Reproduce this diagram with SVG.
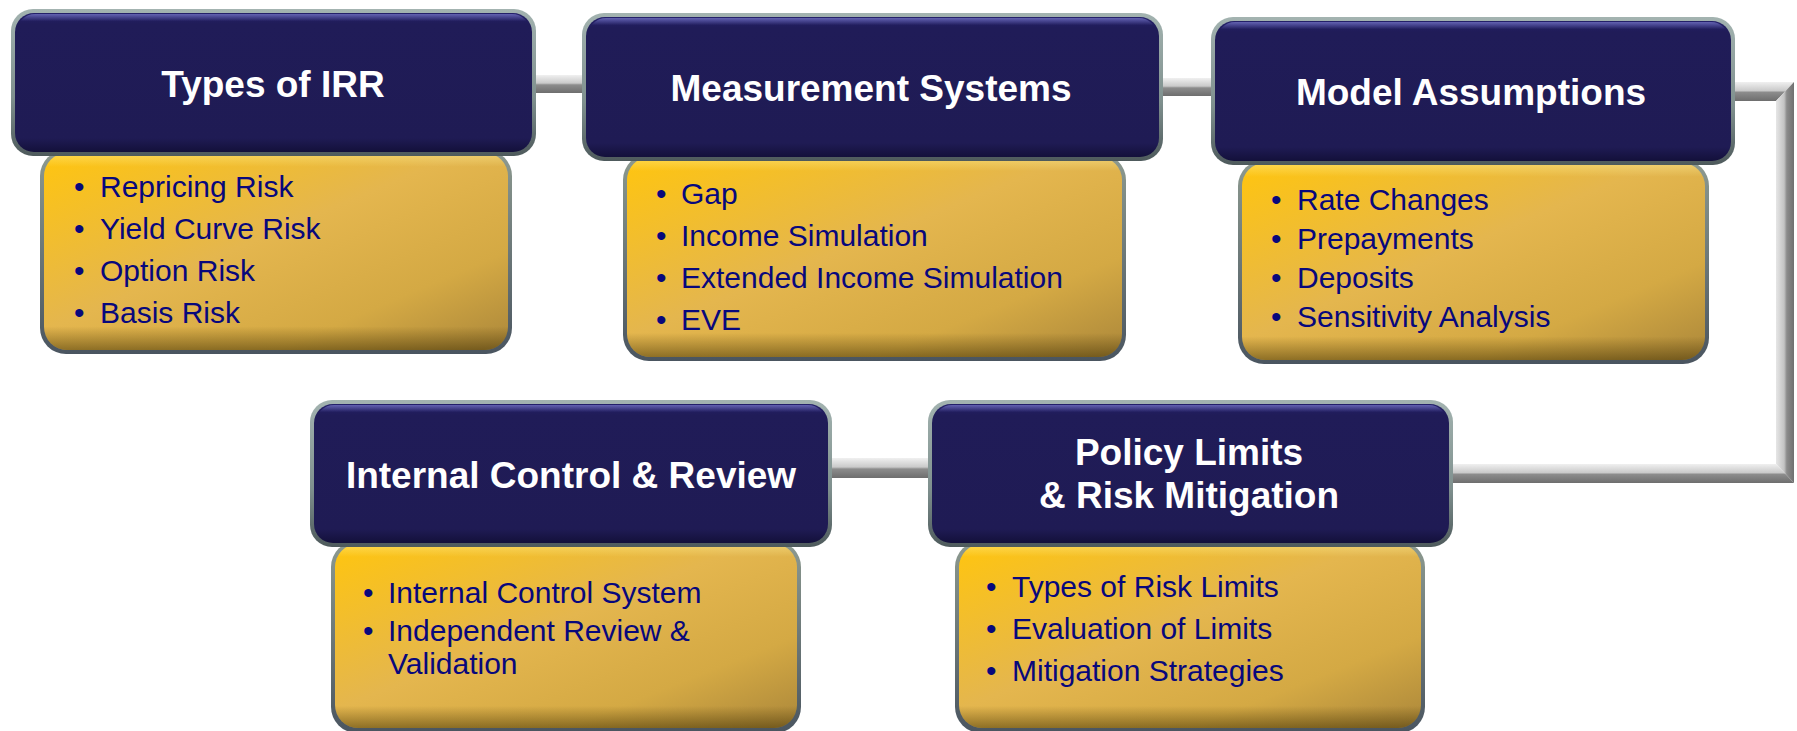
<svg xmlns="http://www.w3.org/2000/svg" width="1797" height="731" viewBox="0 0 1797 731">
  <defs>
    <linearGradient id="navyFill" x1="0" y1="0" x2="0" y2="1">
      <stop offset="0" stop-color="#24206a"/>
      <stop offset="0.08" stop-color="#201c58"/>
      <stop offset="0.9" stop-color="#1f1b54"/>
      <stop offset="1" stop-color="#13103a"/>
    </linearGradient>
    <linearGradient id="navyRim" x1="0" y1="0" x2="0" y2="1">
      <stop offset="0" stop-color="#a3b3b0"/>
      <stop offset="0.6" stop-color="#7f908e"/>
      <stop offset="1" stop-color="#4e5a5c"/>
    </linearGradient>
    <linearGradient id="navyHi" x1="0" y1="0" x2="0" y2="1">
      <stop offset="0" stop-color="#6a69b8" stop-opacity="0.9"/>
      <stop offset="0.12" stop-color="#6a69b8" stop-opacity="0"/>
      <stop offset="1" stop-color="#6a69b8" stop-opacity="0"/>
    </linearGradient>
    <linearGradient id="goldFill" x1="0" y1="0" x2="1" y2="1">
      <stop offset="0" stop-color="#ffc50f"/>
      <stop offset="0.45" stop-color="#e4b64e"/>
      <stop offset="0.75" stop-color="#d4a944"/>
      <stop offset="1" stop-color="#ab873a"/>
    </linearGradient>
    <linearGradient id="goldBevel" x1="0" y1="0" x2="0" y2="1">
      <stop offset="0" stop-color="#fff3a0" stop-opacity="0.45"/>
      <stop offset="0.07" stop-color="#fff3a0" stop-opacity="0"/>
      <stop offset="0.88" stop-color="#3c2c00" stop-opacity="0"/>
      <stop offset="1" stop-color="#3c2c00" stop-opacity="0.5"/>
    </linearGradient>
    <linearGradient id="goldRim" x1="0" y1="0" x2="0" y2="1">
      <stop offset="0" stop-color="#8d9a90"/>
      <stop offset="1" stop-color="#4a5560"/>
    </linearGradient>
    <linearGradient id="barH" x1="0" y1="0" x2="0" y2="1">
      <stop offset="0" stop-color="#f0f0f0"/>
      <stop offset="0.45" stop-color="#cacaca"/>
      <stop offset="0.55" stop-color="#8c8c8c"/>
      <stop offset="1" stop-color="#6e6e6e"/>
    </linearGradient>
    <linearGradient id="barV" x1="0" y1="0" x2="1" y2="0">
      <stop offset="0" stop-color="#e6e6e6"/>
      <stop offset="0.45" stop-color="#c4c4c4"/>
      <stop offset="0.6" stop-color="#8c8c8c"/>
      <stop offset="1" stop-color="#707070"/>
    </linearGradient>
  </defs>
  <style>
    .rimN { fill: url(#navyRim); }
    .navy { fill: url(#navyFill); }
    .hi { fill: url(#navyHi); }
    .rimY { fill: url(#goldRim); }
    .gold { fill: url(#goldFill); }
    .bevel { fill: url(#goldBevel); }
    .title { font-family: "Liberation Sans", Arial, sans-serif; font-weight: bold; font-size: 37px; fill: #ffffff; text-anchor: middle; }
    .item { font-family: "Liberation Sans", Arial, sans-serif; font-size: 30px; fill: #08087c; }
    .barH { fill: url(#barH); }
    .barV { fill: url(#barV); }
  </style>
  <rect width="1797" height="731" fill="#ffffff"/>

  <g id="connectors">
    <rect class="barH" x="532" y="75" width="54" height="18"/>
    <rect class="barH" x="1158" y="78" width="56" height="18"/>
    <polygon class="barH" points="1731,82 1794,82 1776,101 1731,101"/>
    <polygon class="barV" points="1776,101 1794,82 1794,483 1776,464"/>
    <polygon class="barH" points="1450,464 1776,464 1794,483 1450,483"/>
    <rect class="barH" x="828" y="458" width="104" height="20"/>
  </g>

  <g id="node-types-of-irr">
    <rect class="rimY" x="40" y="150" width="472" height="204" rx="26"/>
    <rect class="gold" x="44" y="153" width="464" height="197" rx="23"/>
    <rect class="bevel" x="44" y="153" width="464" height="197" rx="23"/>
    <rect class="rimN" x="11" y="9" width="525" height="147" rx="22"/>
    <rect class="navy" x="15" y="13" width="517" height="139" rx="19"/>
    <rect class="hi" x="17" y="14" width="513" height="60" rx="18"/>
    <text class="title" x="273" y="97">Types of IRR</text>
    <text class="item" y="197"><tspan x="74">•</tspan><tspan x="100">Repricing Risk</tspan></text>
    <text class="item" y="239"><tspan x="74">•</tspan><tspan x="100">Yield Curve Risk</tspan></text>
    <text class="item" y="281"><tspan x="74">•</tspan><tspan x="100">Option Risk</tspan></text>
    <text class="item" y="323"><tspan x="74">•</tspan><tspan x="100">Basis Risk</tspan></text>
  </g>

  <g id="node-measurement-systems">
    <rect class="rimY" x="623" y="154" width="503" height="207" rx="26"/>
    <rect class="gold" x="627" y="157" width="495" height="200" rx="23"/>
    <rect class="bevel" x="627" y="157" width="495" height="200" rx="23"/>
    <rect class="rimN" x="582" y="13" width="581" height="148" rx="22"/>
    <rect class="navy" x="586" y="17" width="573" height="140" rx="19"/>
    <rect class="hi" x="588" y="18" width="569" height="60" rx="18"/>
    <text class="title" x="871" y="101">Measurement Systems</text>
    <text class="item" y="204"><tspan x="656">•</tspan><tspan x="681">Gap</tspan></text>
    <text class="item" y="246"><tspan x="656">•</tspan><tspan x="681">Income Simulation</tspan></text>
    <text class="item" y="288"><tspan x="656">•</tspan><tspan x="681">Extended Income Simulation</tspan></text>
    <text class="item" y="330"><tspan x="656">•</tspan><tspan x="681">EVE</tspan></text>
  </g>

  <g id="node-model-assumptions">
    <rect class="rimY" x="1238" y="160" width="471" height="204" rx="26"/>
    <rect class="gold" x="1242" y="163" width="463" height="197" rx="23"/>
    <rect class="bevel" x="1242" y="163" width="463" height="197" rx="23"/>
    <rect class="rimN" x="1211" y="17" width="524" height="148" rx="22"/>
    <rect class="navy" x="1215" y="21" width="516" height="140" rx="19"/>
    <rect class="hi" x="1217" y="22" width="512" height="60" rx="18"/>
    <text class="title" x="1471" y="105">Model Assumptions</text>
    <text class="item" y="210"><tspan x="1271">•</tspan><tspan x="1297">Rate Changes</tspan></text>
    <text class="item" y="249"><tspan x="1271">•</tspan><tspan x="1297">Prepayments</tspan></text>
    <text class="item" y="288"><tspan x="1271">•</tspan><tspan x="1297">Deposits</tspan></text>
    <text class="item" y="327"><tspan x="1271">•</tspan><tspan x="1297">Sensitivity Analysis</tspan></text>
  </g>

  <g id="node-internal-control">
    <rect class="rimY" x="331" y="541" width="470" height="192" rx="26"/>
    <rect class="gold" x="335" y="544" width="462" height="184" rx="23"/>
    <rect class="bevel" x="335" y="544" width="462" height="184" rx="23"/>
    <rect class="rimN" x="310" y="400" width="522" height="147" rx="22"/>
    <rect class="navy" x="314" y="404" width="514" height="139" rx="19"/>
    <rect class="hi" x="316" y="405" width="510" height="60" rx="18"/>
    <text class="title" x="571" y="488">Internal Control &amp; Review</text>
    <text class="item" y="603"><tspan x="363">•</tspan><tspan x="388">Internal Control System</tspan></text>
    <text class="item" y="641"><tspan x="363">•</tspan><tspan x="388">Independent Review &amp;</tspan></text>
    <text class="item" x="388" y="674">Validation</text>
  </g>

  <g id="node-policy-limits">
    <rect class="rimY" x="955" y="541" width="470" height="192" rx="26"/>
    <rect class="gold" x="959" y="544" width="462" height="184" rx="23"/>
    <rect class="bevel" x="959" y="544" width="462" height="184" rx="23"/>
    <rect class="rimN" x="928" y="400" width="525" height="147" rx="22"/>
    <rect class="navy" x="932" y="404" width="517" height="139" rx="19"/>
    <rect class="hi" x="934" y="405" width="513" height="60" rx="18"/>
    <text class="title" x="1189" y="465">Policy Limits</text>
    <text class="title" x="1189" y="508">&amp; Risk Mitigation</text>
    <text class="item" y="597"><tspan x="986">•</tspan><tspan x="1012">Types of Risk Limits</tspan></text>
    <text class="item" y="639"><tspan x="986">•</tspan><tspan x="1012">Evaluation of Limits</tspan></text>
    <text class="item" y="681"><tspan x="986">•</tspan><tspan x="1012">Mitigation Strategies</tspan></text>
  </g>
</svg>
